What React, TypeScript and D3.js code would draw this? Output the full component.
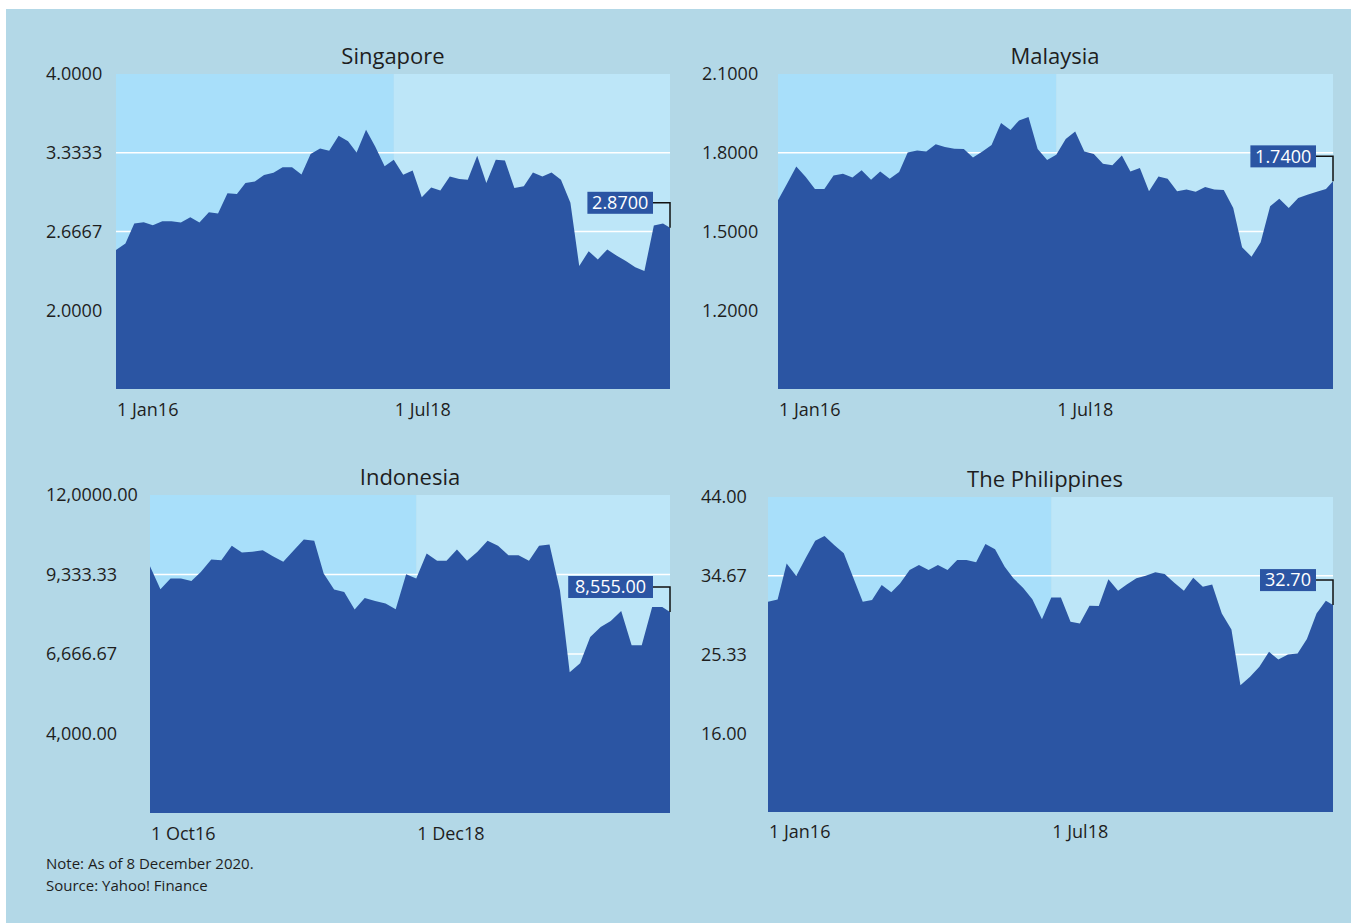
import React from "react";
import * as d3 from "d3";

// ---------- DATA ----------
const sgValues = [2.509, 2.565, 2.734, 2.745, 2.72, 2.754, 2.754, 2.743, 2.787, 2.743,
  2.83, 2.82, 2.99, 2.985, 3.078, 3.091, 3.145, 3.165, 3.21, 3.21,
  3.15, 3.322, 3.37, 3.35, 3.477, 3.43, 3.336, 3.527, 3.387, 3.218,
  3.274, 3.148, 3.184, 2.956, 3.04, 3.013, 3.133, 3.111, 3.105, 3.308,
  3.078, 3.274, 3.268, 3.035, 3.049, 3.167, 3.133, 3.167, 3.105, 2.909,
  2.374, 2.5, 2.43, 2.515, 2.464, 2.416, 2.365, 2.332, 2.717, 2.734, 2.698];
const myValues = [1.619, 1.685, 1.748, 1.708, 1.662, 1.662, 1.713, 1.72, 1.706, 1.733,
  1.697, 1.729, 1.701, 1.727, 1.801, 1.809, 1.805, 1.832, 1.822, 1.815,
  1.814, 1.782, 1.805, 1.83, 1.913, 1.887, 1.923, 1.936, 1.814, 1.772,
  1.792, 1.852, 1.881, 1.805, 1.795, 1.758, 1.752, 1.79, 1.729, 1.742,
  1.653, 1.71, 1.701, 1.653, 1.66, 1.651, 1.67, 1.66, 1.658, 1.59,
  1.44, 1.404, 1.459, 1.596, 1.625, 1.59, 1.628, 1.64, 1.651, 1.662, 1.691];
const idValues = [9612, 8839, 9199, 9199, 9118, 9421, 9838, 9814, 10295, 10073,
  10093, 10150, 9949, 9757, 10127, 10510, 10463, 9367, 8829, 8748,
  8156, 8546, 8445, 8358, 8166, 9343, 9199, 10039, 9791, 9791,
  10174, 9791, 10093, 10463, 10295, 9982, 9982, 9791, 10295, 10342,
  8805, 6058, 6360, 7235, 7571, 7773, 8109, 6956, 6956, 8244,
  8244, 8076];
const phValues = [31.58, 31.86, 36.13, 34.63, 36.73, 38.82, 39.37, 38.3, 37.32, 34.5,
  31.58, 31.78, 33.56, 32.7, 33.76, 35.34, 35.93, 35.34, 35.93, 35.34,
  36.53, 36.53, 36.26, 38.43, 37.8, 35.74, 34.36, 33.25, 31.87, 29.5,
  32.1, 32.1, 29.21, 29.02, 31.11, 31.07, 34.24, 32.89, 33.64, 34.36,
  34.67, 35.07, 34.87, 33.84, 32.89, 34.43, 33.36, 33.64, 30.2, 28.31,
  21.7, 22.69, 23.87, 25.65, 24.75, 25.34, 25.46, 27.16, 30.2, 31.7, 31.19];

const sgTicks = [2, 2.6667, 3.3333, 4];
const sgTickLabels = ["2.0000", "2.6667", "3.3333", "4.0000"];
const myTicks = [1.2, 1.5, 1.8, 2.1];
const myTickLabels = ["1.2000", "1.5000", "1.8000", "2.1000"];
const idTicks = [4000, 6666.67, 9333.33, 12000];
const idTickLabels = ["4,000.00", "6,666.67", "9,333.33", "12,0000.00"];
const phTicks = [16, 25.33, 34.67, 44];
const phTickLabels = ["16.00", "25.33", "34.67", "44.00"];

const sgLast = "2.8700";
const myLast = "1.7400";
const idLast = "8,555.00";
const phLast = "32.70";

const jan16 = new Date(2016, 0, 1);
const oct16 = new Date(2016, 9, 1);
const jul18 = new Date(2018, 6, 1);
const dec18 = new Date(2018, 11, 1);
const endDate = new Date(2020, 11, 24);

const titles = ["Singapore", "Malaysia", "Indonesia", "The Philippines"];
const noteText = "Note: As of 8 December 2020.";
const sourceText = "Source: Yahoo! Finance";

// ---------- STYLE ----------
const FONT = "'Open Sans', 'Noto Sans', sans-serif";
const BG = "#b3d8e7";
const SHADE_DARK = "#a8dffa";
const SHADE_LIGHT = "#bde6f8";
const AREA = "#2b55a3";
const TEXT = "#1e1e1e";

function monthlyDates(start: Date, n: number): Date[] {
  return d3.timeMonth.range(start, d3.timeMonth.offset(start, n));
}

type Panel = {
  title: string;
  values: number[];
  start: Date;
  split: Date;
  tickDates: Date[];
  domain: [number, number];
  yTicks: number[];
  yLabels: string[];
  last: string;
  x0: number; x1: number; y0: number; y1: number;
  labelX: number; titleX: number; titleY: number; xTickY: number;
};

const fmt = d3.timeFormat("%b%y");

const panels: Panel[] = [
  { title: titles[0], values: sgValues, start: jan16, split: jul18, tickDates: [jan16, jul18],
    domain: [4 / 3, 4], yTicks: sgTicks, yLabels: sgTickLabels, last: sgLast,
    x0: 116, x1: 670, y0: 74, y1: 389, labelX: 46, titleX: 393, titleY: 56, xTickY: 410 },
  { title: titles[1], values: myValues, start: jan16, split: jul18, tickDates: [jan16, jul18],
    domain: [0.9, 2.1], yTicks: myTicks, yLabels: myTickLabels, last: myLast,
    x0: 778, x1: 1333, y0: 74, y1: 389, labelX: 702, titleX: 1055, titleY: 56, xTickY: 410 },
  { title: titles[2], values: idValues, start: oct16, split: dec18, tickDates: [oct16, dec18],
    domain: [4000 / 3, 12000], yTicks: idTicks, yLabels: idTickLabels, last: idLast,
    x0: 150, x1: 670, y0: 495, y1: 813, labelX: 46, titleX: 410, titleY: 477, xTickY: 834 },
  { title: titles[3], values: phValues, start: jan16, split: jul18, tickDates: [jan16, jul18],
    domain: [20 / 3, 44], yTicks: phTicks, yLabels: phTickLabels, last: phLast,
    x0: 768, x1: 1333, y0: 497, y1: 812, labelX: 701, titleX: 1045, titleY: 479, xTickY: 832 },
];

function PanelView({ p }: { p: Panel }) {
  const x = d3.scaleTime().domain([p.start, endDate]).range([p.x0, p.x1]);
  const y = d3.scaleLinear().domain(p.domain).range([p.y1, p.y0]);
  const dates = monthlyDates(p.start, p.values.length - 1).concat([endDate]);
  const data = p.values.map((v, i) => ({ d: dates[i], v }));
  const area = d3.area<{ d: Date; v: number }>()
    .x((e) => x(e.d))
    .y0(p.y1)
    .y1((e) => y(e.v));
  const splitX = x(p.split);
  const lastPt = data[data.length - 1];
  const ey = y(lastPt.v);
  const boxH = 22;
  const boxMidY = ey - 25;
  const textW = p.last.length * 9.6;
  const boxRight = p.x1 - 17;
  const boxLeft = boxRight - textW - 8;
  return (
    <g>
      <rect x={p.x0} y={p.y0} width={splitX - p.x0} height={p.y1 - p.y0} fill={SHADE_DARK} />
      <rect x={splitX} y={p.y0} width={p.x1 - splitX} height={p.y1 - p.y0} fill={SHADE_LIGHT} />
      {p.yTicks.slice(0, -1).map((t, i) => (
        <line key={i} x1={p.x0} x2={p.x1} y1={y(t)} y2={y(t)} stroke="#ffffff" strokeWidth={1.4} />
      ))}
      <path d={area(data) || ""} fill={AREA} />
      {p.yTicks.map((t, i) => (
        <text key={i} x={p.labelX} y={y(t)} dy="0.35em" fontSize={18} fill={TEXT}
          fontFamily={FONT}>{p.yLabels[i]}</text>
      ))}
      {p.tickDates.map((d, i) => (
        <text key={i} x={x(d) + 1} y={p.xTickY} dy="0.35em" fontSize={18} fill={TEXT}
          fontFamily={FONT}>{"1 " + fmt(d)}</text>
      ))}
      <text x={p.titleX} y={p.titleY} dy="0.35em" textAnchor="middle" fontSize={22}
        fill={TEXT} fontFamily={FONT}>{p.title}</text>
      <polyline points={`${boxRight},${boxMidY} ${p.x1},${boxMidY} ${p.x1},${ey}`} fill="none"
        stroke="#111" strokeWidth={1.5} />
      <rect x={boxLeft} y={boxMidY - boxH / 2} width={boxRight - boxLeft} height={boxH} fill={AREA} />
      <text x={(boxLeft + boxRight) / 2} y={boxMidY} dy="0.35em" textAnchor="middle"
        fontSize={18} fill="#ffffff" fontFamily={FONT}>{p.last}</text>
    </g>
  );
}

export default function App() {
  return (
    <svg width={1357} height={923} style={{ position: "absolute", left: 0, top: 0 }}>
      <rect x={0} y={0} width={1357} height={923} fill="#ffffff" />
      <rect x={6} y={9} width={1345} height={914} fill={BG} />
      {panels.map((p, i) => <PanelView key={i} p={p} />)}
      <text x={46} y={864} dy="0.35em" fontSize={15} fill={TEXT} fontFamily={FONT}>{noteText}</text>
      <text x={46} y={886} dy="0.35em" fontSize={15} fill={TEXT} fontFamily={FONT}>{sourceText}</text>
    </svg>
  );
}
